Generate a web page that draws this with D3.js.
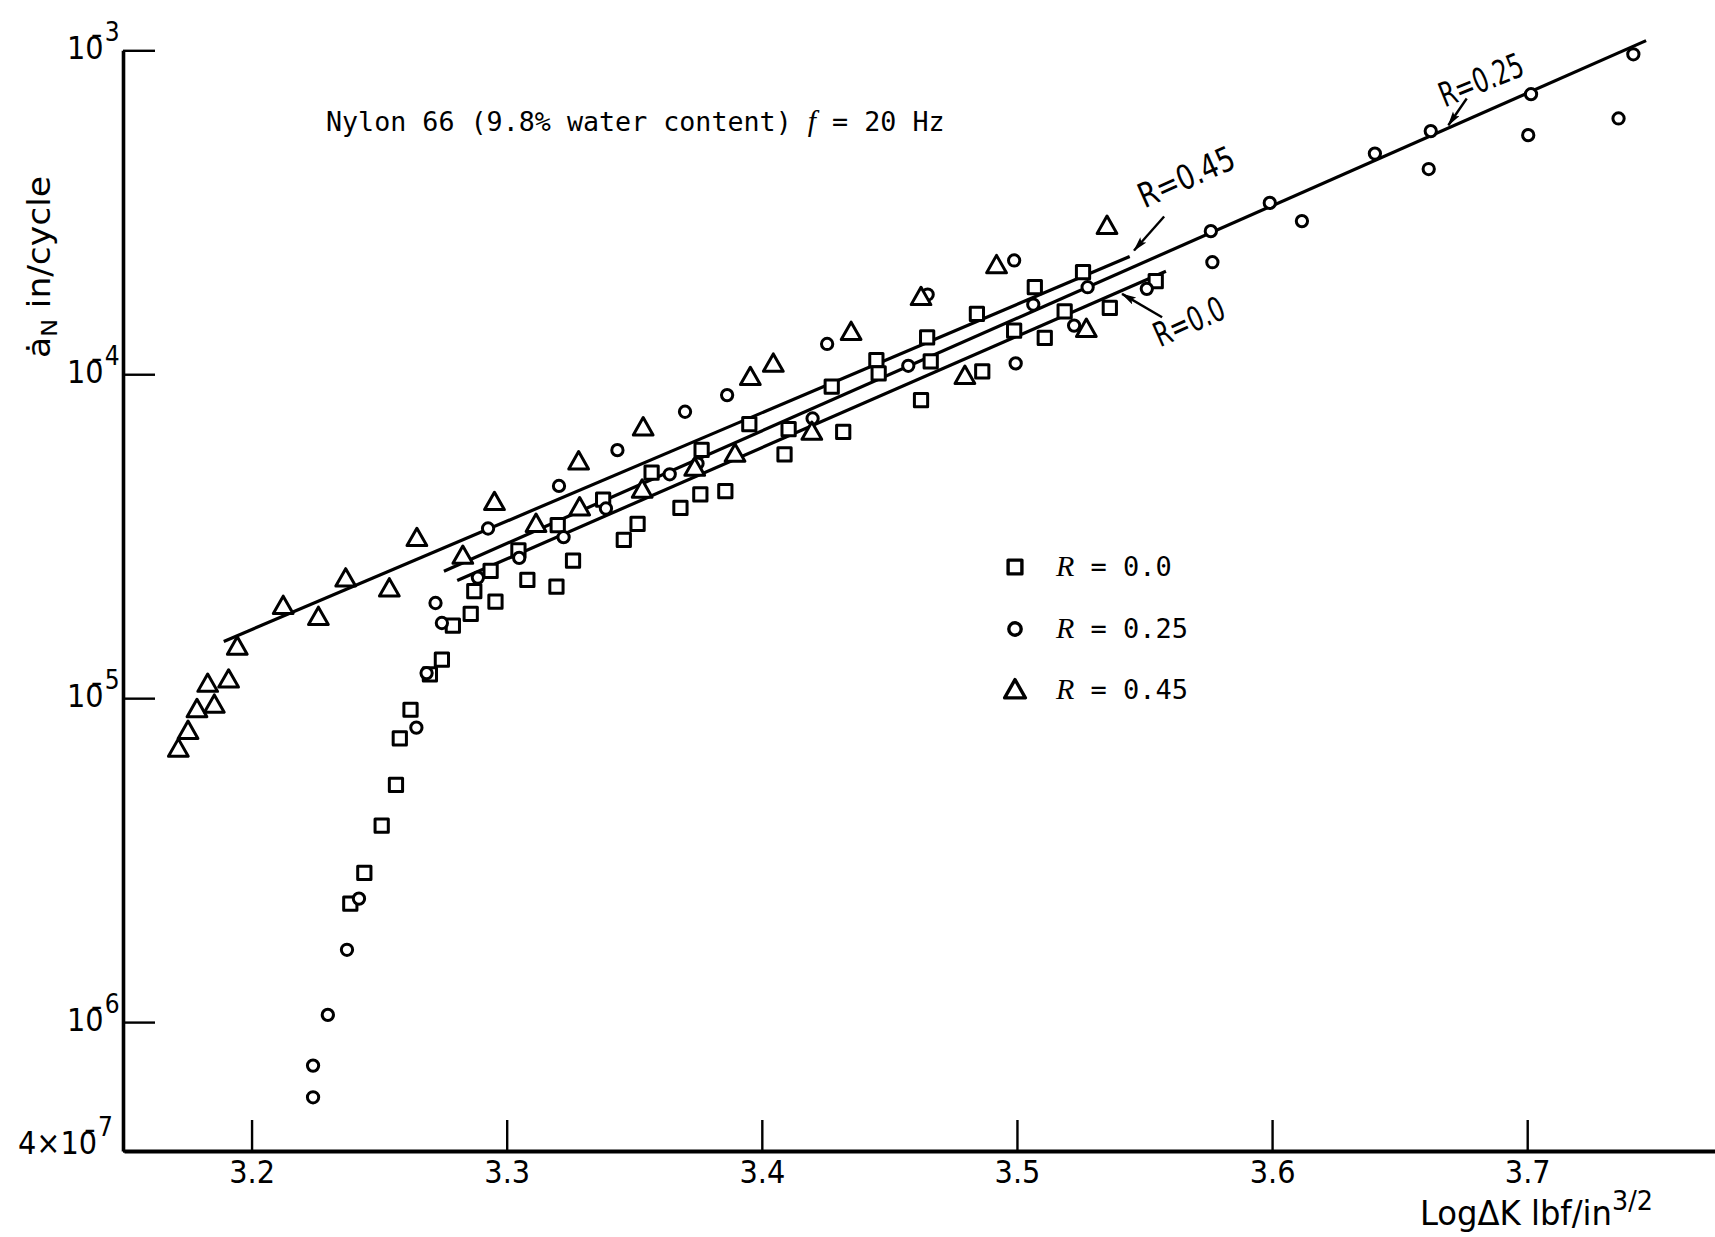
<!DOCTYPE html>
<html><head><meta charset="utf-8">
<script src="https://cdn.jsdelivr.net/npm/d3@7"></script>
<style>
html,body{margin:0;padding:0;background:#fff;}
svg{display:block;}
</style></head><body>
<svg id="chart" width="1715" height="1237"></svg>
<script>
// ---------------- DATA ----------------
const titleText = "Nylon 66 (9.8% water content) ";
const titleFreq = " = 20 Hz";
const xTickValues = [3.2, 3.3, 3.4, 3.5, 3.6, 3.7];
const yTickValues = [1e-3, 1e-4, 1e-5, 1e-6, 4e-7];
const yTickMantissa = ["10\u0304", "10\u0304", "10\u0304", "10\u0304", "4×10\u0304"];
const yTickExponent = ["3", "4", "5", "6", "7"];
const seriesNames = ["R = 0.0", "R = 0.25", "R = 0.45"];
const lineLabels = ["R=0.0", "R=0.25", "R=0.45"];

// R = 0.0 (squares): log ΔK, da/dN (in/cycle)
const r00LogK = [3.2387,3.2442,3.2510,3.2566,3.2581,3.2623,3.2699,3.2746,3.2789,3.2859,3.2873,3.2937,3.2956,3.3046,3.3081,3.3195,3.3200,3.3260,3.3378,3.3459,3.3513,3.3568,3.3681,3.3759,3.3764,3.3857,3.3951,3.4089,3.4105,3.4274,3.4319,3.4449,3.4458,3.4624,3.4648,3.4662,3.4843,3.4864,3.4989,3.5070,3.5109,3.5187,3.5259,3.5364,3.5544];
const r00Rate = [2.32e-6,2.89e-6,4.04e-6,5.40e-6,7.52e-6,9.21e-6,1.184e-5,1.315e-5,1.676e-5,1.82e-5,2.14e-5,2.47e-5,1.985e-5,2.86e-5,2.32e-5,2.21e-5,3.42e-5,2.66e-5,4.10e-5,3.08e-5,3.45e-5,4.97e-5,3.87e-5,4.26e-5,5.84e-5,4.36e-5,7.01e-5,5.66e-5,6.77e-5,9.15e-5,6.64e-5,1.106e-4,1.006e-4,8.32e-5,1.30e-4,1.095e-4,1.536e-4,1.02e-4,1.363e-4,1.856e-4,1.294e-4,1.564e-4,2.065e-4,1.602e-4,1.937e-4];

// R = 0.25 (circles)
const r025LogK = [3.2241,3.2241,3.2299,3.2374,3.2421,3.2646,3.2686,3.2721,3.2746,3.2887,3.2927,3.3049,3.3205,3.3223,3.3389,3.3434,3.3639,3.3699,3.3748,3.3864,3.4199,3.4256,3.4574,3.4650,3.4989,3.4995,3.5064,3.5224,3.5277,3.5509,3.5760,3.5766,3.5991,3.6117,3.6403,3.6614,3.6622,3.7004,3.7015,3.7358,3.7416];
const r025Rate = [5.86e-7,7.34e-7,1.053e-6,1.672e-6,2.405e-6,8.11e-6,1.195e-5,1.967e-5,1.706e-5,2.356e-5,3.34e-5,2.71e-5,4.52e-5,3.14e-5,3.85e-5,5.83e-5,4.91e-5,7.66e-5,5.30e-5,8.62e-5,7.30e-5,1.240e-4,1.062e-4,1.762e-4,2.245e-4,1.080e-4,1.641e-4,1.413e-4,1.856e-4,1.835e-4,2.765e-4,2.217e-4,3.38e-4,2.97e-4,4.80e-4,4.30e-4,5.63e-4,5.47e-4,7.32e-4,6.16e-4,9.72e-4];

// R = 0.45 (triangles)
const r045LogK = [3.1713,3.1751,3.1786,3.1828,3.1854,3.1910,3.1944,3.2124,3.2262,3.2369,3.2540,3.2648,3.2828,3.2952,3.3115,3.3282,3.3286,3.3531,3.3535,3.3737,3.3895,3.3955,3.4045,3.4196,3.4350,3.4624,3.4796,3.4920,3.5272,3.5353];
const r045Rate = [6.98e-6,7.92e-6,9.25e-6,1.107e-5,9.54e-6,1.141e-5,1.442e-5,1.925e-5,1.78e-5,2.34e-5,2.18e-5,3.12e-5,2.75e-5,4.03e-5,3.45e-5,5.38e-5,3.88e-5,4.40e-5,6.85e-5,5.14e-5,5.68e-5,9.80e-5,1.077e-4,6.64e-5,1.35e-4,1.73e-4,9.88e-5,2.17e-4,1.38e-4,2.87e-4];

// fitted straight lines (end points)
const fit00LogK = [3.2806, 3.5584],  fit00Rate = [2.307e-5, 2.079e-4];
const fit025LogK = [3.2754, 3.7466], fit025Rate = [2.466e-5, 1.071e-3];
const fit045LogK = [3.1891, 3.5442], fit045Rate = [1.497e-5, 2.309e-4];

// annotation anchors (data coords): label start, arrow tail, arrow tip
const annLabelLogK = [3.5561, 3.6677, 3.5500];
const annLabelRate = [1.21e-4, 6.66e-4, 3.25e-4];
const annTailLogK = [3.5569, 3.6763, 3.5577];
const annTailRate = [1.50e-4, 7.10e-4, 3.07e-4];
const annTipLogK = [3.5412, 3.6691, 3.5459];
const annTipRate = [1.77e-4, 5.87e-4, 2.41e-4];

// ---------------- SETUP ----------------
const svg = d3.select("#chart");
const x = d3.scaleLinear().domain([3.15, 3.774]).range([124, 1716]);
const y = d3.scaleLog().domain([4e-7, 1e-3]).range([1151, 50.3]);

const sansFont = "'Liberation Sans Narrow','DejaVu Sans Condensed','DejaVu Sans',sans-serif";
const monoFont = "'DejaVu Sans Mono','Liberation Mono',monospace";
const serifFont = "'Liberation Serif','DejaVu Serif',serif";

function fitWidth(sel, target) {
  const node = sel.node();
  const w = node.getBBox().width;
  if (!w) return;
  const s = target / w;
  const xx = +sel.attr("x") || 0, yy = +sel.attr("y") || 0;
  sel.attr("transform", `translate(${xx},${yy}) scale(${s},1) translate(${-xx},${-yy})`);
}

const triangleType = {
  draw(ctx, size) {
    const s = Math.sqrt(size);
    ctx.moveTo(0, -0.5 * s);
    ctx.lineTo(0.5 * s, 0.38 * s);
    ctx.lineTo(-0.5 * s, 0.38 * s);
    ctx.closePath();
  }
};

const series = [
  {name: seriesNames[0], label: lineLabels[0], k: r00LogK, r: r00Rate, fk: fit00LogK, fr: fit00Rate, type: d3.symbolSquare, size: 175, legSize: 190},
  {name: seriesNames[1], label: lineLabels[1], k: r025LogK, r: r025Rate, fk: fit025LogK, fr: fit025Rate, type: d3.symbolCircle, size: 100, legSize: 120},
  {name: seriesNames[2], label: lineLabels[2], k: r045LogK, r: r045Rate, fk: fit045LogK, fr: fit045Rate, type: triangleType, size: 390, legSize: 430}
];

// ---------------- AXES ----------------
const gx = svg.append("g").attr("transform", "translate(0,1151)")
  .call(d3.axisBottom(x).tickValues(xTickValues).tickFormat(d3.format(".1f"))
    .tickSizeInner(-31).tickSizeOuter(0));
gx.select(".domain").attr("stroke", "#000").attr("stroke-width", 4);
gx.selectAll(".tick line").attr("stroke", "#000").attr("stroke-width", 2.4);
gx.selectAll(".tick text").attr("y", 32).attr("dy", null)
  .attr("font-family", sansFont).attr("font-size", 32).attr("fill", "#000");

const gy = svg.append("g").attr("transform", "translate(123,0)")
  .call(d3.axisLeft(y).tickValues(yTickValues).tickSizeInner(-32).tickSizeOuter(0));
gy.select(".domain").attr("stroke", "#000").attr("stroke-width", 3.6);
gy.selectAll(".tick line").attr("stroke", "#000").attr("stroke-width", 2.4);
gy.selectAll(".tick text").each(function(d, i) {
  const t = d3.select(this);
  const last = i === yTickValues.length - 1;
  t.text(null).attr("dy", null).attr("text-anchor", "start")
    .attr("x", last ? -105 : -56).attr("y", last ? 2 : 8)
    .attr("font-family", sansFont).attr("fill", "#000");
  t.append("tspan").attr("font-size", 32).text(yTickMantissa[i]);
  t.append("tspan").attr("font-size", 26).attr("dx", 1).attr("dy", -18).text(yTickExponent[i]);
});

// ---------------- FIT LINES ----------------
const line = d3.line().x(d => x(d[0])).y(d => y(d[1]));
series.forEach(s => {
  svg.append("path")
    .attr("d", line(s.fk.map((k, i) => [k, s.fr[i]])))
    .attr("fill", "none").attr("stroke", "#000").attr("stroke-width", 3.2);
});

// ---------------- MARKERS ----------------
series.forEach(s => {
  const sym = d3.symbol().type(s.type).size(s.size);
  svg.append("g").selectAll("path").data(s.k.map((k, i) => [k, s.r[i]]))
    .join("path")
    .attr("transform", d => `translate(${x(d[0])},${y(d[1])})`)
    .attr("d", sym())
    .attr("fill", "#fff").attr("stroke", "#000").attr("stroke-width", 3)
    .attr("stroke-linejoin", "round");
});

// ---------------- ANNOTATIONS ----------------
svg.append("defs").append("marker")
  .attr("id", "arrow").attr("markerUnits", "userSpaceOnUse")
  .attr("markerWidth", 16).attr("markerHeight", 10)
  .attr("refX", 14).attr("refY", 4).attr("orient", "auto")
  .append("path").attr("d", "M0,0 L15,4 L0,8 L3,4 Z").attr("fill", "#000");

const annAngles = [-24, -22, -24];
const annWidths = [74, 88, 102];
series.forEach((s, i) => {
  svg.append("line")
    .attr("x1", x(annTailLogK[i])).attr("y1", y(annTailRate[i]))
    .attr("x2", x(annTipLogK[i])).attr("y2", y(annTipRate[i]))
    .attr("stroke", "#000").attr("stroke-width", 2.4)
    .attr("marker-end", "url(#arrow)");
  const g = svg.append("g")
    .attr("transform", `translate(${x(annLabelLogK[i])},${y(annLabelRate[i])}) rotate(${annAngles[i]})`);
  const t = g.append("text").attr("x", 0).attr("y", 0)
    .attr("font-family", sansFont).attr("font-size", 34).attr("fill", "#000")
    .text(s.label);
  fitWidth(t, annWidths[i]);
});

// ---------------- TITLE ----------------
const title = svg.append("text").attr("x", 326).attr("y", 131)
  .attr("font-family", monoFont).attr("font-size", 27).attr("fill", "#000");
title.append("tspan").text(titleText);
title.append("tspan").attr("font-family", serifFont).attr("font-style", "italic").attr("font-size", 30).text("f");
title.append("tspan").text(titleFreq);
fitWidth(title, 619);

// ---------------- LEGEND ----------------
const legY = [567, 629, 690];
series.forEach((s, i) => {
  svg.append("path")
    .attr("transform", `translate(1015,${legY[i]})`)
    .attr("d", d3.symbol().type(s.type).size(s.legSize)())
    .attr("fill", "#fff").attr("stroke", "#000").attr("stroke-width", 3.4)
    .attr("stroke-linejoin", "round");
  const parts = s.name.split(" ");
  const t = svg.append("text").attr("x", 1056).attr("y", legY[i] + 9)
    .attr("font-family", monoFont).attr("font-size", 27).attr("fill", "#000")
    .attr("xml:space", "preserve");
  t.append("tspan").attr("font-family", serifFont).attr("font-style", "italic").attr("font-size", 30).text(parts[0]);
  t.append("tspan").text(" " + parts.slice(1).join(" "));
});

// ---------------- AXIS TITLES ----------------
const xl = svg.append("text").attr("x", 1420).attr("y", 1225)
  .attr("font-family", sansFont).attr("font-size", 33).attr("fill", "#000");
xl.append("tspan").text("LogΔK lbf/in");
xl.append("tspan").attr("font-size", 26).attr("dy", -15).text("3/2");
fitWidth(xl, 233);

const ylg = svg.append("g").attr("transform", "translate(50,358) rotate(-90)");
const yl = ylg.append("text").attr("x", 0).attr("y", 0)
  .attr("font-family", sansFont).attr("font-size", 32).attr("fill", "#000");
yl.append("tspan").text("ȧ");
yl.append("tspan").attr("font-size", 22).attr("dy", 7).text("N");
yl.append("tspan").attr("dy", -7).text(" in/cycle");
fitWidth(yl, 182);
</script>
</body></html>
